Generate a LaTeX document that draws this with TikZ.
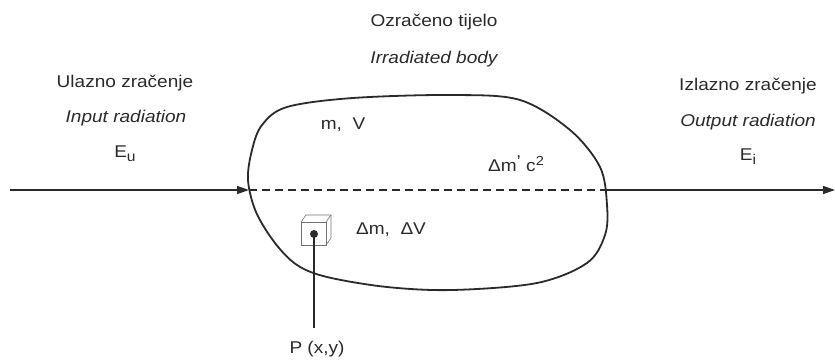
\documentclass[tikz,border=0pt]{standalone}
\usepackage{fontspec}
\setmainfont{Liberation Sans}[FakeStretch=1.12]
\usetikzlibrary{arrows.meta}
\definecolor{ink}{HTML}{2A2A2A}
\begin{document}
\begin{tikzpicture}[x=1pt,y=-1pt,
  lbl/.style={font=\fontsize{17}{20}\selectfont, text=ink, inner sep=0pt, anchor=base},
  ray/.style={draw=ink, line width=1.4pt, -{Triangle[length=12pt,width=8pt]}},
  dashray/.style={draw=ink, line width=1.2pt, dash pattern=on 8pt off 5pt},
  bodyline/.style={draw=ink, line width=1.8pt},
  cubeline/.style={draw=black!55, line width=0.6pt},
  lead/.style={draw=ink, line width=1.3pt}]
\useasboundingbox (0,0) rectangle (835,363);

% labels
\node[lbl] (tbody1) at (434,27) {Ozračeno tijelo};
\node[lbl] (tbody2) at (434,64) {\itshape Irradiated body};
\node[lbl] (tin1) at (125,88) {Ulazno zračenje};
\node[lbl] (tin2) at (126,123) {\itshape Input radiation};
\node[lbl] (tin3) at (125,158) {E\raisebox{-0.35ex}{\fontsize{14}{14}\selectfont u}};
\node[lbl] (tout1) at (748,91) {Izlazno zračenje};
\node[lbl] (tout2) at (748,127) {\itshape Output radiation};
\node[lbl] (tout3) at (748,161) {E\raisebox{-0.35ex}{\fontsize{14}{14}\selectfont i}};
\node[lbl] (tmv) at (343,130) {m,\ \ V};
\node[lbl] (tdc) at (516,172) {Δm\raisebox{0.45ex}{'} c\raisebox{0.7ex}{\fontsize{13}{13}\selectfont 2}};
\node[lbl] (tdmv) at (391,235) {Δm,\ \ ΔV};
\node[lbl] (tp) at (317,353) {P (x,y)};

% irradiated body outline
\draw[bodyline] plot[smooth cycle, tension=0.55] coordinates {
  (252,150) (262,125) (287,107) (353,98) (453,95) (520,100) (570,130)
  (600,167) (607,205) (605,235) (587,263) (537,283) (453,290) (387,287)
  (327,277) (297,265) (275,243) (256,212) (248,180)};

% ray coordinates
\coordinate (src) at (10,190);
\coordinate (entry) at (249,190);
\coordinate (exit) at (606,190);
\coordinate (dst) at (835,190);

\draw[ray] (src) -- (entry);
\draw[dashray] (entry) -- (exit);
\draw[ray] (exit) -- (dst);

% small volume element (cube)
\draw[cubeline, fill=white] (301,222) rectangle (326,245);
\draw[cubeline] (301,222) -- (306,215) -- (331,215) -- (331,238) -- (326,245);
\draw[cubeline] (326,222) -- (331,215);
\node[circle, fill=ink, inner sep=0pt, minimum size=8pt] (pt) at (314,234) {};
\coordinate (leadend) at (314,328);
\draw[lead] (pt.center) -- (leadend);
\end{tikzpicture}
\end{document}
